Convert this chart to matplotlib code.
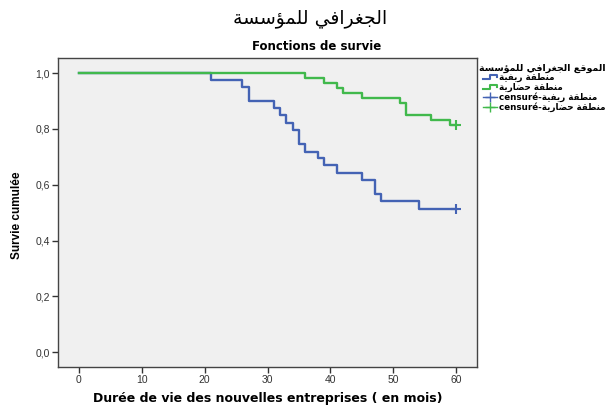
import matplotlib
matplotlib.use("Agg")
import matplotlib.pyplot as plt
from matplotlib.lines import Line2D
from matplotlib.legend_handler import HandlerBase

# ---------------- data ----------------
rural_times = [0, 21, 26, 27, 31, 32, 33, 34, 35, 36, 38, 39, 41, 45, 47, 48, 54]
rural_surv = [1.0, 0.976, 0.950, 0.901, 0.875, 0.849, 0.822, 0.797, 0.746,
              0.718, 0.694, 0.670, 0.643, 0.616, 0.566, 0.541, 0.514]
urban_times = [0, 36, 39, 41, 42, 45, 51, 52, 56, 59]
urban_surv = [1.0, 0.981, 0.963, 0.945, 0.927, 0.909, 0.891, 0.851, 0.833, 0.815]
censor_time = 60
x_ticks = [0, 10, 20, 30, 40, 50, 60]
y_ticks = [0.0, 0.2, 0.4, 0.6, 0.8, 1.0]
y_tick_labels = ["0,0", "0,2", "0,4", "0,6", "0,8", "1,0"]

top_title = "الجغرافي للمؤسسة"
title = "Fonctions de survie"
legend_title = "الموقع الجغرافي للمؤسسة"
group_names = ["منطقة ريفية", "منطقة حضارية"]
xlabel = "Durée de vie des nouvelles entreprises ( en mois)"
ylabel = "Survie cumulée"

# ------------- minimal Arabic shaping (visual order) -------------
FORMS = {
    'ا': ('\uFE8D', '\uFE8E'), 'ؤ': ('\uFE85', '\uFE86'), 'ة': ('\uFE93', '\uFE94'),
    'ر': ('\uFEAD', '\uFEAE'), 'و': ('\uFEED', '\uFEEE'),
    'ج': ('\uFE9D', '\uFE9E', '\uFE9F', '\uFEA0'), 'ح': ('\uFEA1', '\uFEA2', '\uFEA3', '\uFEA4'),
    'س': ('\uFEB1', '\uFEB2', '\uFEB3', '\uFEB4'), 'ض': ('\uFEBD', '\uFEBE', '\uFEBF', '\uFEC0'),
    'ط': ('\uFEC1', '\uFEC2', '\uFEC3', '\uFEC4'), 'ع': ('\uFEC9', '\uFECA', '\uFECB', '\uFECC'),
    'غ': ('\uFECD', '\uFECE', '\uFECF', '\uFED0'), 'ف': ('\uFED1', '\uFED2', '\uFED3', '\uFED4'),
    'ق': ('\uFED5', '\uFED6', '\uFED7', '\uFED8'), 'ل': ('\uFEDD', '\uFEDE', '\uFEDF', '\uFEE0'),
    'م': ('\uFEE1', '\uFEE2', '\uFEE3', '\uFEE4'), 'ن': ('\uFEE5', '\uFEE6', '\uFEE7', '\uFEE8'),
    'ي': ('\uFEF1', '\uFEF2', '\uFEF3', '\uFEF4'),
}


def shape(s):
    out = []
    n = len(s)
    for i, c in enumerate(s):
        if c not in FORMS:
            out.append(c)
            continue
        f = FORMS[c]
        prev = s[i - 1] if i > 0 else None
        nxt = s[i + 1] if i + 1 < n else None
        jp = prev is not None and prev in FORMS and len(FORMS[prev]) == 4
        jn = len(f) == 4 and nxt is not None and nxt in FORMS
        if jp and jn:
            out.append(f[3])
        elif jp:
            out.append(f[1])
        elif jn:
            out.append(f[2])
        else:
            out.append(f[0])
    return "".join(out)[::-1]


# ---------------- figure ----------------
BLUE = "#4463b4"
GREEN = "#41b94c"

fig = plt.figure(figsize=(6.14, 4.08), dpi=100)
ax = fig.add_axes([0.0945, 0.101, 0.6825, 0.757])
ax.set_facecolor("#f0f0f0")

ax.step(rural_times + [censor_time], rural_surv + [rural_surv[-1]], where="post",
        color=BLUE, lw=1.7)
ax.step(urban_times + [censor_time], urban_surv + [urban_surv[-1]], where="post",
        color=GREEN, lw=1.7)
ax.plot([censor_time], [rural_surv[-1]], marker="+", color=BLUE, ms=7, mew=1.5)
ax.plot([censor_time], [urban_surv[-1]], marker="+", color=GREEN, ms=7, mew=1.5)

ax.set_xlim(-3.3, 63.3)
ax.set_ylim(-0.052, 1.054)
ax.set_xticks(x_ticks)
ax.set_yticks(y_ticks)
ax.set_yticklabels(y_tick_labels)
ax.tick_params(direction="out", length=4, width=1, color="#333333",
               labelsize=7.5, labelcolor="#333333", pad=2)
for lab in ax.get_xticklabels() + ax.get_yticklabels():
    lab.set_family("Liberation Sans")
for sp in ax.spines.values():
    sp.set_color("#444444")
    sp.set_linewidth(1.0)

ax.set_xlabel(xlabel, fontsize=9, fontweight="bold", family="DejaVu Sans", labelpad=5)
ax.set_ylabel(ylabel, fontsize=8.5, fontweight="bold", family="Liberation Sans")
ax.yaxis.set_label_coords(-0.083, 0.49)

fig.text(0.505, 0.955, shape(top_title), ha="center", va="center", fontsize=13.5,
         family="DejaVu Sans")
fig.text(0.515, 0.887, title, ha="center", va="center", fontsize=8.5,
         fontweight="bold", family="DejaVu Sans")


class StepHandler(HandlerBase):
    def create_artists(self, legend, orig_handle, xdescent, ydescent,
                       width, height, fontsize, trans):
        x0 = -xdescent
        y0 = -ydescent
        xs = [x0, x0 + 0.5 * width, x0 + 0.5 * width, x0 + width, x0 + width]
        ys = [y0 + 0.1 * height, y0 + 0.1 * height, y0 + 0.8 * height,
              y0 + 0.8 * height, y0 + 0.45 * height]
        ln = Line2D(xs, ys, color=orig_handle.get_color(), lw=1.5, transform=trans)
        return [ln]


h1 = Line2D([], [], color=BLUE)
h2 = Line2D([], [], color=GREEN)
h3 = Line2D([], [], color=BLUE, marker="+", lw=1, ms=7, mew=1)
h4 = Line2D([], [], color=GREEN, marker="+", lw=1, ms=7, mew=1)
labels = [shape(group_names[0]), shape(group_names[1]),
          "censuré-" + shape(group_names[0]), "censuré-" + shape(group_names[1])]
leg = ax.legend([h1, h2, h3, h4], labels, loc="upper left",
                bbox_to_anchor=(1.0, 0.988), frameon=False, fontsize=6.3,
                title=shape(legend_title), title_fontproperties={"size": 6.8, "weight": "bold"},
                handlelength=1.6, handletextpad=0.2, labelspacing=0.05,
                borderpad=0.2, borderaxespad=0.0,
                handler_map={h1: StepHandler(), h2: StepHandler()},
                prop={"size": 6.3, "weight": "bold"})
leg._legend_box.align = "right"

fig.savefig("out.png", dpi=100)
